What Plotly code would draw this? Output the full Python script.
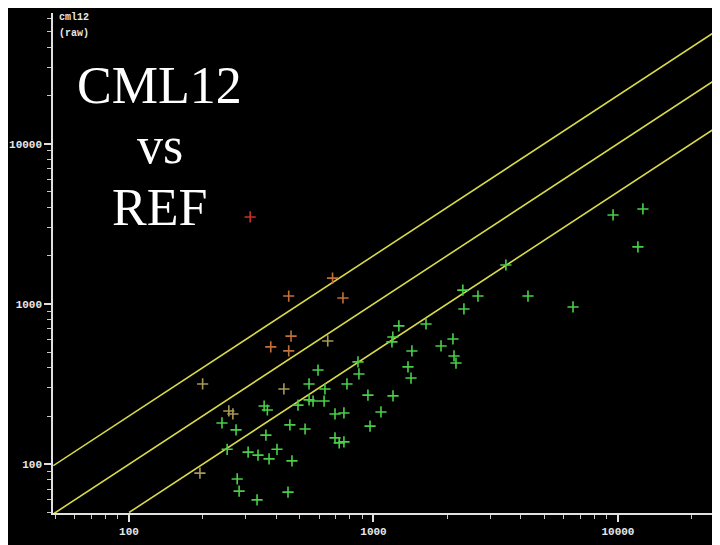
import plotly.graph_objects as go

# ---- data (REF raw on x, cml12 raw on y) ----
red_x = [313]
red_y = [3490]

orange_x = [450, 680, 750, 460, 380, 450]
orange_y = [1120, 1450, 1090, 630, 540, 510]

tan_x = [200, 256, 266, 650, 430, 195]
tan_y = [317, 215, 206, 588, 295, 88]

green_x = [357, 368, 491, 240, 274, 455, 525, 363, 252, 307, 337, 403, 374, 464,
           277, 282, 447, 334,
           1270, 1200, 1190, 1436, 864, 593, 872, 1384, 1424, 545, 779, 633, 949,
           1202, 545, 566, 628, 696, 757, 1073, 968, 696, 724, 757,
           9550, 12650, 12070, 3480, 2320, 2675, 4285, 6550, 2344, 1640, 2114,
           1889, 2135, 2175]
green_y = [231, 218, 234, 181, 164, 176, 166, 152, 124, 119, 114, 124, 108, 105,
           81, 68, 67, 60,
           730, 622, 580, 509, 435, 387, 366, 405, 345, 317, 317, 295, 270,
           267, 252, 248, 248, 206, 209, 212, 173, 146, 136, 138,
           3590, 3915, 2270, 1750, 1220, 1120, 1120, 958, 931, 750, 605,
           547, 474, 428]

line_x = [49, 25000]
ratios = [2.0, 1.0, 0.5]
ratio_start_x = [49, 49, 100]

fig = go.Figure()

for r, x0 in zip(ratios, ratio_start_x):
    xs = [x0, line_x[1]]
    fig.add_trace(go.Scatter(x=xs, y=[v * r for v in xs], mode="lines",
                             line=dict(color="#d8d848", width=1.6),
                             hoverinfo="skip", showlegend=False))

def pts(xs, ys, color):
    fig.add_trace(go.Scatter(x=xs, y=ys, mode="markers", showlegend=False,
                             marker=dict(symbol="cross-thin", size=8,
                                         line=dict(color=color, width=1.6))))

pts(green_x, green_y, "#48d048")
pts(tan_x, tan_y, "#a89858")
pts(orange_x, orange_y, "#c07038")
pts(red_x, red_y, "#c83028")

axis_font = dict(family="Liberation Mono", size=11, color="#e8e8e8", weight="bold")
common = dict(type="log", showgrid=False, zeroline=False, showline=True,
              linecolor="#e0e0e0", linewidth=1.5, ticks="outside", ticklen=7,
              tickwidth=1.5, tickcolor="#e0e0e0", tickfont=axis_font,
              dtick=1, tick0=0, tickformat="d", automargin=False,
              minor=dict(ticks="outside", ticklen=4, tickwidth=1.2, dtick="D1",
                         tickcolor="#c8c8c8", showgrid=False))

fig.update_xaxes(range=[1.689, 4.397], **common)
fig.update_yaxes(range=[1.696, 4.815], **common)

fig.add_annotation(xref="paper", yref="paper", x=0.006, y=0.992, xanchor="left",
                   yanchor="middle", showarrow=False, text="<b>cml12</b>",
                   font=dict(family="Liberation Mono", size=10, color="#e8e8e8"))
fig.add_annotation(xref="paper", yref="paper", x=0.006, y=0.96, xanchor="left",
                   yanchor="middle", showarrow=False, text="<b>(raw)</b>",
                   font=dict(family="Liberation Mono", size=10, color="#e8e8e8"))

title_font = dict(family="Liberation Serif", size=52, color="white")
for txt, yy in [("CML12", 0.855), ("vs", 0.735), ("REF", 0.611)]:
    fig.add_annotation(xref="paper", yref="paper", x=0.1616, y=yy,
                       xanchor="center", yanchor="middle", showarrow=False,
                       text=txt, font=title_font)

fig.update_layout(width=712, height=537, paper_bgcolor="black",
                  plot_bgcolor="black", separators=".",
                  margin=dict(l=45, r=5, t=5, b=32, autoexpand=False))

fig.write_html("out.html")
